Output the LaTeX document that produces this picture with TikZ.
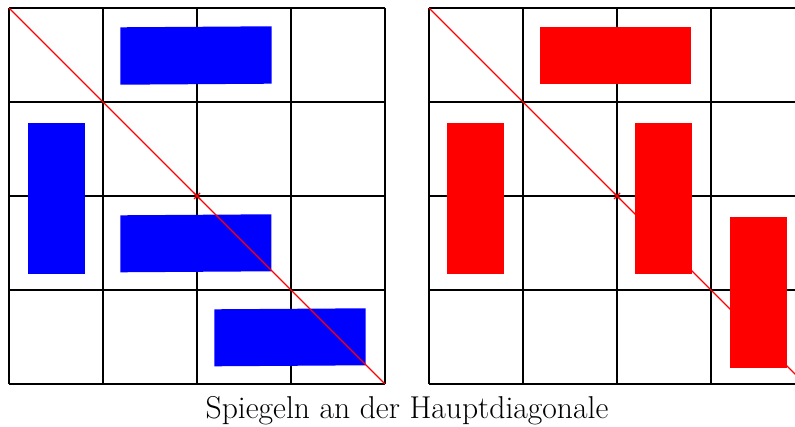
\documentclass[tikz,border=0pt]{standalone}
\usepackage{tikz}
\begin{document}
\begin{tikzpicture}[x=1pt,y=-1pt,
  gridline/.style={black,line width=1.1pt},
  diag/.style={red,line width=1.1pt},
  bluebox/.style={fill=blue,draw=none},
  redbox/.style={fill=red,draw=none}]
\useasboundingbox (0,0) rectangle (795,427);
\clip (0,0) rectangle (795,427);
% grids
\foreach \k in {0,1,2,3,4}{
  \draw[gridline] (9+94*\k,8) -- (9+94*\k,384);
  \draw[gridline] (9,8+94*\k) -- (385,8+94*\k);
  \draw[gridline] (429+94*\k,8) -- (429+94*\k,384);
  \draw[gridline] (429,8+94*\k) -- (805,8+94*\k);
}
% blue boxes
\fill[bluebox] (120.3,27.3) -- (271.7,26.3) -- (271.7,83.7) -- (120.3,84.7) -- cycle;
\fill[bluebox] (27.7,122.7) rectangle (85,273.7);
\fill[bluebox] (120.3,215.3) -- (271.3,214.3) -- (271.3,271.3) -- (120.3,272.3) -- cycle;
\fill[bluebox] (214.3,309.3) -- (365.7,308.3) -- (365.7,365.3) -- (214.3,366.3) -- cycle;
% red boxes
\fill[redbox] (540,27) rectangle (691,84);
\fill[redbox] (447,122.7) rectangle (504,273.7);
\fill[redbox] (635,123) rectangle (692,274);
\fill[redbox] (730,217) rectangle (787,368);
% diagonals
\draw[diag] (9,8) -- (385,384);
\draw[diag] (429,8) -- (805,384);
\draw[diag] (194,193) -- (200,199) (194,199) -- (200,193);
\draw[diag] (614,193) -- (620,199) (614,199) -- (620,193);
% caption
\node (cap) at (407,411) {\fontsize{31.6}{38}\selectfont Spiegeln an der Hauptdiagonale};
\end{tikzpicture}
\end{document}
